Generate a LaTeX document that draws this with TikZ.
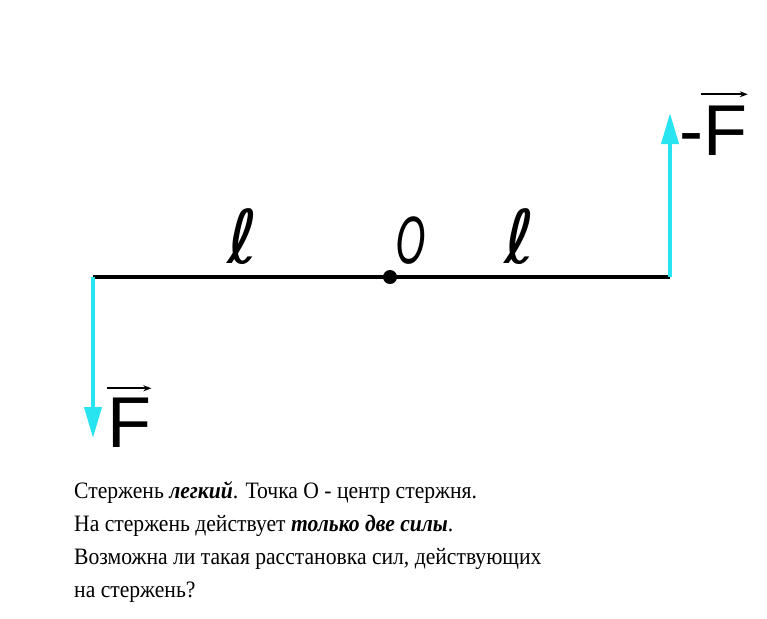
\documentclass[tikz,border=0pt]{standalone}
\usepackage{fontspec}
\setmainfont{Liberation Serif}
\newfontfamily\sansF{Liberation Sans}
\newfontfamily\ellF{DejaVu Sans}
\newfontfamily\txtF[FakeStretch=0.92]{Liberation Serif}
\usetikzlibrary{arrows.meta,positioning}
\definecolor{forcecyan}{RGB}{40,228,240}
\tikzset{
  force/.style={draw=forcecyan,line width=4pt,-{Triangle[length=31pt,width=17pt]},shorten >=-2pt},
  vecarr/.style={line width=1.6pt,-{Stealth[length=8pt,width=6pt]}},
  flabel/.style={inner sep=0pt,font=\sansF\fontsize{72}{72}\selectfont},
  lenlabel/.style={inner sep=0pt,anchor=base,font=\ellF\itshape\fontsize{74}{74}\selectfont}
}
\begin{document}
\begin{tikzpicture}[x=1pt,y=-1pt]
\useasboundingbox (0,0) rectangle (767,618);
\coordinate (A) at (93,277);
\coordinate (B) at (670,277);
\coordinate (O) at (390,277);
\coordinate (Ftip) at (93,436);
\coordinate (Gtip) at (670,115);

% rod
\draw[line width=4.5pt] (A)--(B);
\fill (O) circle (7);

% forces
\draw[force] (A)--(Ftip);
\draw[force] (B)--(Gtip);

\node[flabel,anchor=base west] (F1) at (107,447) {F};
\draw[vecarr] ([yshift=9pt]F1.north west)--([yshift=9pt]F1.north east);
\node[flabel,anchor=base west] (minus) at (679,155) {-};
\node[flabel,anchor=base west] (F2) at (minus.base east) {F};
\draw[vecarr] ([yshift=11pt,xshift=-2pt]F2.north west)--([yshift=11pt]F2.north east);

% lengths and centre
\node[lenlabel] (l1) at (243,263) {ℓ};
\node[lenlabel] (l2) at (520,263) {ℓ};
\node[lenlabel,font=\ellF\itshape\fontsize{63}{63}\selectfont] (Olab) at (411,263) {\scalebox{0.6}[1]{O}};

\node[anchor=base west,align=left,inner sep=0pt,font=\txtF\fontsize{23.5}{33}\selectfont] (txt) at (74,597)
{Стержень \textbf{\textit{легкий}}. Точка О - центр стержня.\\
На стержень действует \textbf{\textit{только две силы}}.\\
Возможна ли такая расстановка сил, действующих\\
на стержень?};
\end{tikzpicture}
\end{document}
